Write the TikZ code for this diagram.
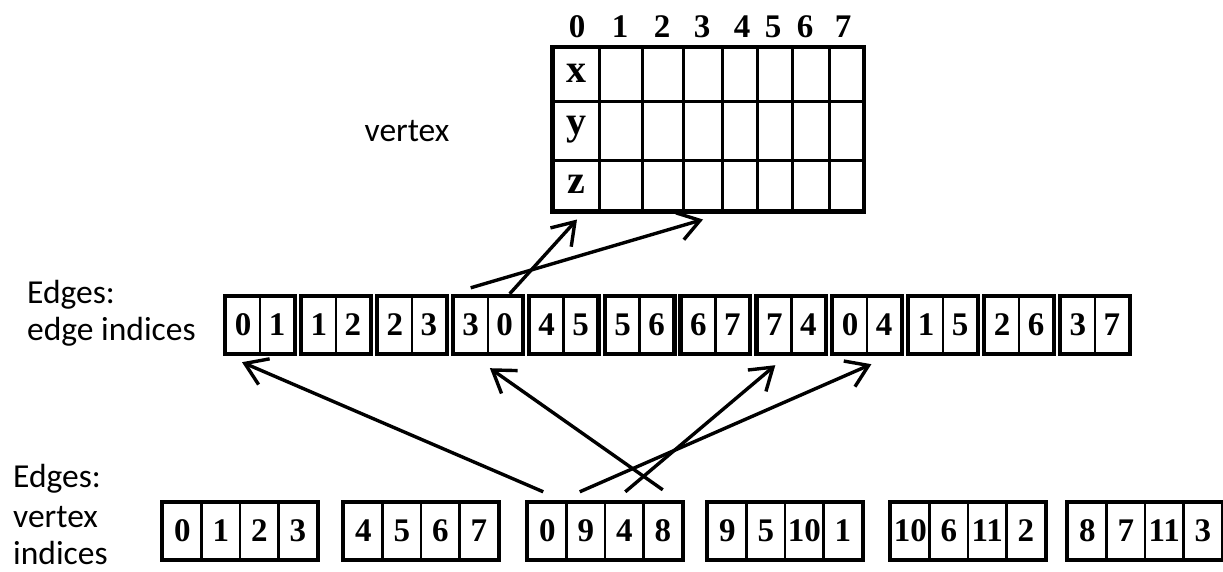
\documentclass[tikz,border=0pt]{standalone}
\usepackage{fontspec}
\setmainfont{Liberation Serif}
\newfontfamily\labfont{Carlito}
\usetikzlibrary{arrows.meta,calc}
\begin{document}
\begin{tikzpicture}[x=1pt,y=-1pt,
  digit/.style={font=\fontsize{33}{33}\selectfont\bfseries, inner sep=0pt},
  cell/.style={draw, line width=2.4pt, minimum height=56pt, inner sep=0pt, digit},
  vcell/.style={draw, line width=3pt, inner sep=0pt},
  frame/.style={draw, line width=3.6pt},
  lbl/.style={font=\fontsize{33.5}{33.5}\labfont, inner sep=0pt, anchor=base west},
  arr/.style={line width=3.4pt, -{Straight Barb[length=21pt,width=28pt]}},
]
\useasboundingbox (0,0) rectangle (1223,572);

% vertex table
\foreach \l/\r [count=\c from 0] in {553/599,599/642,642/683,683/722,722/757,757/792,792/829,829/863}{
  \foreach \rn/\t/\b in {x/48/102,y/102/161,z/161/211}{
    \node[vcell, minimum width=\r-\l, minimum height=\b-\t] (v\rn\c) at ({(\l+\r)/2},{(\t+\b)/2}) {};
  }
}
\draw[frame] (vx0.north west) rectangle (vz7.south east);
\node[font=\fontsize{40}{40}\selectfont\bfseries, inner sep=0pt] (lx) at ($(vx0)+(0,-2)$) {x};
\node[font=\fontsize{40}{40}\selectfont\bfseries, inner sep=0pt] (ly) at ($(vy0)+(0,-2)$) {y};
\node[font=\fontsize{40}{40}\selectfont\bfseries, inner sep=0pt] (lz) at ($(vz0)+(0,-2)$) {z};
\foreach \d/\x in {0/577,1/620,2/662,3/702,4/742,5/773,6/805,7/843}{
  \node[digit] (h\d) at (\x,27) {\d};
}
\node[font=\fontsize{33.5}{33.5}\labfont, inner sep=0pt] (vlabel) at (407,131) {vertex};

% edge indices row
\node[lbl] (el1) at (27,303) {Edges:};
\node[lbl] (el2) at (27,340) {edge indices};
\foreach \a/\b [count=\i from 0] in {0/1,1/2,2/3,3/0,4/5,5/6,6/7,7/4,0/4,1/5,2/6,3/7}{
  \pgfmathsetmacro\L{226+75.9*\i}
  \node[cell, minimum width=34pt] (ea\i) at (\L+17,325) {\a};
  \node[cell, minimum width=34pt] (eb\i) at (\L+51,325) {\b};
  \draw[frame] (ea\i.north west) rectangle (eb\i.south east);
}

% vertex indices row
\node[lbl] (bl1) at (13,487) {Edges:};
\node[lbl] (bl2) at (13,527) {vertex};
\node[lbl] (bl3) at (13,564) {indices};
\foreach \a/\b/\c/\d/\L [count=\j from 0] in {0/1/2/3/163,4/5/6/7/344,0/9/4/8/528,9/5/10/1/708,10/6/11/2/891,8/7/11/3/1068}{
  \node[cell, minimum width=38.5pt] (g\j-a) at (\L+19.25,531) {\a};
  \node[cell, minimum width=38.5pt] (g\j-b) at (\L+57.75,531) {\b};
  \node[cell, minimum width=38.5pt] (g\j-c) at (\L+96.25,531) {\c};
  \node[cell, minimum width=38.5pt] (g\j-d) at (\L+134.75,531) {\d};
  \draw[frame] (g\j-a.north west) rectangle (g\j-d.south east);
}

% arrows edge -> vertex
\draw[arr] ($(eb3.north)+(5,-2)$) -- ($(vz0.south)+(1,7)$);
\draw[arr] ($(ea3.north)+(0,-8)$) -- ($(vz3.south)+(0.5,7)$);

% arrows vertex indices -> edge indices
\draw[arr] ($(g2-a.north)+(-4,-10)$) -- ($(ea0.south)+(-1,8)$);
\draw[arr] ($(g2-d.north)+(0,-12)$) -- ($(ea3.south east)+(1,14)$);
\draw[arr] ($(g2-b.north)+(-6,-10)$) -- ($(ea8.south east)+(3,10)$);
\draw[arr] ($(g2-c.north)+(1,-10)$) -- ($(ea7.south)+(1,11)$);
\end{tikzpicture}
\end{document}
